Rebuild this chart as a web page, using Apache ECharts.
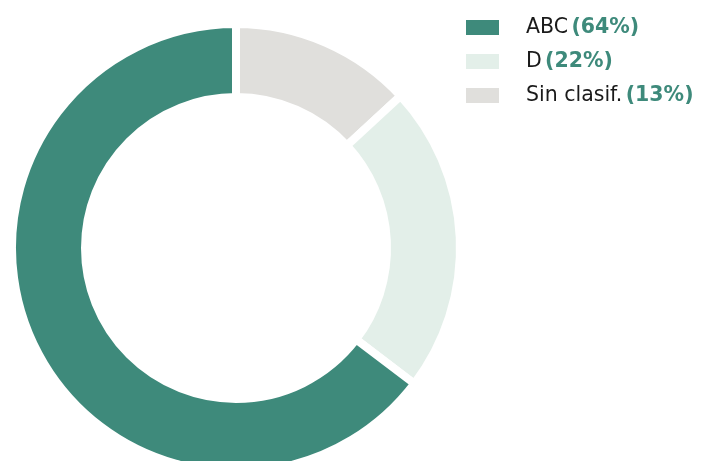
<!DOCTYPE html>
<html>
<head>
<meta charset="utf-8">
<script src="https://cdn.jsdelivr.net/npm/echarts@6/dist/echarts.min.js"></script>
<style>
  html, body { margin: 0; padding: 0; background: #fff; }
  #chart { width: 704px; height: 461px; }
</style>
</head>
<body>
<div id="chart"></div>
<script>
  // datos
  const categories = ['ABC', 'D', 'Sin clasif.']
  const values = [64, 22, 13]
  const colors = ['#3e8a7b', '#e3efe9', '#e0dfdc']
  // orden de dibujo (sentido horario desde arriba)
  const drawOrder = [2, 1, 0]

  const chart = echarts.init(document.getElementById('chart'))

  const option = {
    animation: false,
    legend: {
      orient: 'vertical',
      left: 464,
      top: 17,
      padding: 0,
      itemWidth: 35,
      itemHeight: 17,
      itemGap: 13,
      icon: 'rect',
      data: categories,
      formatter: function (name) {
        const i = categories.indexOf(name)
        return '{n|' + name + '} {p|(' + values[i] + '%)}'
      },
      textStyle: {
        padding: [0, 0, 0, 21],
        rich: {
          n: { fontFamily: 'DejaVu Sans', fontSize: 20.5, color: '#1a1a1a' },
          p: { fontFamily: 'DejaVu Sans', fontSize: 20.5, fontWeight: 'bold', color: '#3e8a7b' }
        }
      }
    },
    series: [
      {
        type: 'pie',
        center: [236, 248],
        radius: [151, 224],
        startAngle: 90,
        clockwise: true,
        label: { show: false },
        labelLine: { show: false },
        emphasis: { disabled: true },
        itemStyle: { borderColor: '#fff', borderWidth: 8 },
        data: drawOrder.map((i) => ({
          name: categories[i],
          value: values[i],
          itemStyle: { color: colors[i] }
        }))
      }
    ]
  }

  chart.setOption(option)
</script>
</body>
</html>
